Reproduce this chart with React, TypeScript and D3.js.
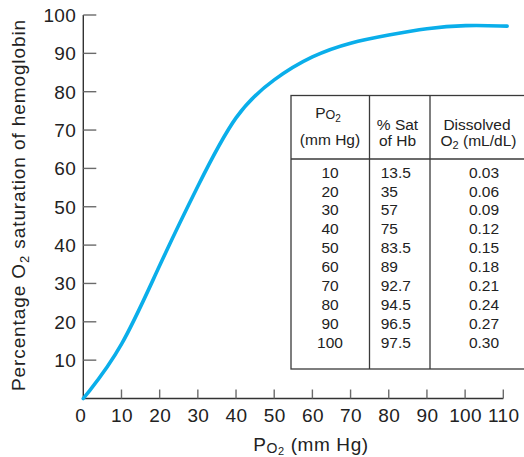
import React from "react";
import * as d3 from "d3";

const xTicks = [0, 10, 20, 30, 40, 50, 60, 70, 80, 90, 100, 110];
const yTicks = [10, 20, 30, 40, 50, 60, 70, 80, 90, 100];

const tablePO2 = [10, 20, 30, 40, 50, 60, 70, 80, 90, 100];
const tableSat = ["13.5", "35", "57", "75", "83.5", "89", "92.7", "94.5", "96.5", "97.5"];
const tableDissolved = ["0.03", "0.06", "0.09", "0.12", "0.15", "0.18", "0.21", "0.24", "0.27", "0.30"];

const curvePO2 = [0, 10, 20, 30, 40, 50, 60, 70, 80, 90, 100, 111];
const curveSat = [0, 12.5, 35, 55.5, 75, 83.5, 89.5, 92.9, 94.8, 96.6, 97.4, 97.1];

const FONT = "'Liberation Sans', Arial, Helvetica, sans-serif";
const CYAN = "#0aaeea";

export default function App() {
  const W = 524;
  const H = 457;
  const x = d3.scaleLinear().domain([0, 110]).range([83.3, 503.3]);
  const y = d3.scaleLinear().domain([0, 100]).range([398.5, 15]);

  const line = d3
    .line<number>()
    .x((_, i) => x(curvePO2[i]))
    .y((d) => y(d))
    .curve(d3.curveBasis);

  // table geometry
  const tLeft = 291;
  const tTop = 95.5;
  const tHead = 159;
  const tBottom = 369;
  const c1 = 369.5;
  const c2 = 430;
  const tRight = 526;
  const rowY = d3.scalePoint<number>().domain(tablePO2).range([177.7, 347.7]);

  const axisFS = 19;
  const tFS = 15.5;

  return (
    <svg
      width={W}
      height={H}
      style={{ position: "absolute", left: 0, top: 0, background: "#fff" }}
      fontFamily={FONT}
    >
      <rect x={0} y={0} width={W} height={H} fill="#fff" />

      {/* y axis */}
      <line x1={x(0)} x2={x(0)} y1={y(100)} y2={y(0)} stroke="#333" strokeWidth={1.4} />
      {yTicks.map((t) => (
        <g key={"y" + t}>
          <line x1={x(0)} x2={x(0) + 13} y1={y(t)} y2={y(t)} stroke="#6b6b6b" strokeWidth={1.4} />
          <text
            x={x(0) - 7}
            y={y(t) + 2}
            textAnchor="end"
            dominantBaseline="middle"
            fontSize={axisFS}
            letterSpacing={0.4}
            fill="#222"
          >
            {t}
          </text>
        </g>
      ))}

      {/* x axis */}
      <line x1={x(0)} x2={x(110)} y1={y(0)} y2={y(0)} stroke="#333" strokeWidth={1.4} />
      {xTicks.map((t) => (
        <g key={"x" + t}>
          {t > 0 && (
            <line x1={x(t)} x2={x(t)} y1={y(0)} y2={y(0) - 9} stroke="#6b6b6b" strokeWidth={1.4} />
          )}
          <text
            x={x(t) + (t === 0 ? -2.5 : 0.5)}
            y={421.7}
            textAnchor="middle"
            fontSize={axisFS}
            letterSpacing={0.4}
            fill="#222"
          >
            {t}
          </text>
        </g>
      ))}

      {/* axis titles */}
      <text
        transform={`translate(24.5, 205) rotate(-90)`}
        textAnchor="middle"
        fontSize={19}
        letterSpacing={0.9}
        fill="#222"
      >
        Percentage O
        <tspan fontSize={13} dy={4}>2</tspan>
        <tspan dy={-4}> saturation of hemoglobin</tspan>
      </text>
      <text x={311} y={450.5} textAnchor="middle" fontSize={19} letterSpacing={0.6} fill="#222">
        P
        <tspan fontSize={14} dy={2}>O</tspan>
        <tspan fontSize={11} dy={2.5}>2</tspan>
        <tspan dy={-4.5}> (mm Hg)</tspan>
      </text>

      {/* curve */}
      <path
        d={line(curveSat) || ""}
        fill="none"
        stroke={CYAN}
        strokeWidth={3.6}
        strokeLinecap="round"
      />

      {/* table */}
      <rect x={tLeft} y={tTop} width={tRight - tLeft} height={tBottom - tTop} fill="#fff" stroke="#3a3a3a" strokeWidth={1.3} />
      <line x1={tLeft} x2={tRight} y1={tHead} y2={tHead} stroke="#3a3a3a" strokeWidth={1.3} />
      <line x1={c1} x2={c1} y1={tTop} y2={tBottom} stroke="#3a3a3a" strokeWidth={1.3} />
      <line x1={c2} x2={c2} y1={tTop} y2={tBottom} stroke="#3a3a3a" strokeWidth={1.3} />

      <g fontSize={tFS} fill="#222">
        <text x={328} y={118.3} textAnchor="middle">
          P
          <tspan fontSize={12.5} dy={1}>O</tspan>
          <tspan fontSize={10} dy={2.5}>2</tspan>
        </text>
        <text x={330} y={144.5} textAnchor="middle">(mm Hg)</text>
        <text x={397.5} y={129.5} textAnchor="middle">% Sat</text>
        <text x={397.5} y={145.5} textAnchor="middle">of Hb</text>
        <text x={477} y={129.5} textAnchor="middle">Dissolved</text>
        <text x={478.5} y={145.5} textAnchor="middle">
          O<tspan fontSize={11} dy={3}>2</tspan>
          <tspan dy={-3}> (mL/dL)</tspan>
        </text>

        {tablePO2.map((p, i) => (
          <g key={"r" + p}>
            <text x={330} y={rowY(p)} textAnchor="middle">{p}</text>
            <text x={380.7} y={rowY(p)} textAnchor="start">{tableSat[i]}</text>
            <text x={484} y={rowY(p)} textAnchor="middle">{tableDissolved[i]}</text>
          </g>
        ))}
      </g>
    </svg>
  );
}
